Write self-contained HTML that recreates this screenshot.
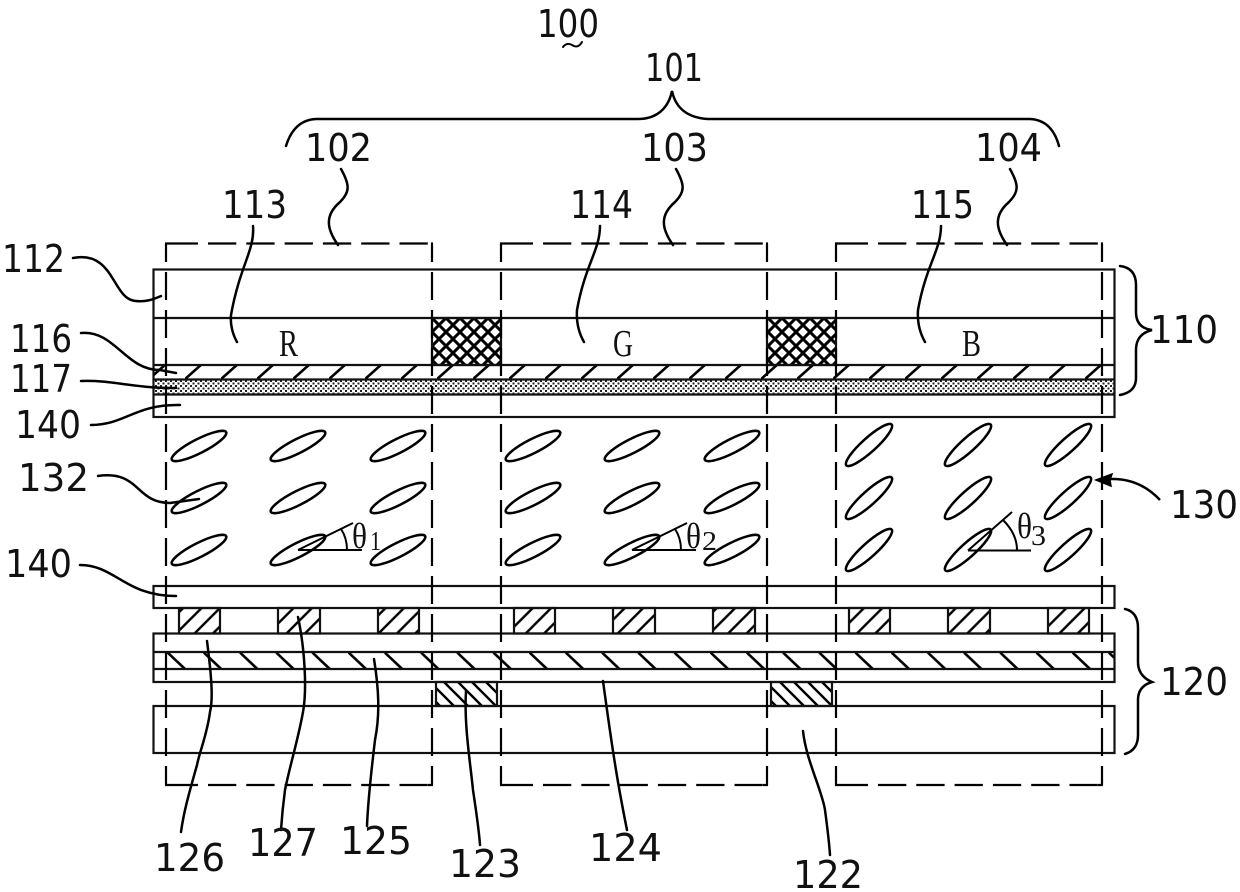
<!DOCTYPE html>
<html><head><meta charset="utf-8"><style>
html,body{margin:0;padding:0;background:#fff}
svg{display:block}
text.n{font-family:"DejaVu Sans","Liberation Sans",sans-serif;font-size:38px;fill:#111}
text.s{font-family:"Liberation Serif",serif;fill:#111}
</style></head><body>
<svg width="1240" height="892" viewBox="0 0 1240 892" xmlns="http://www.w3.org/2000/svg">
<defs>
<pattern id="h1" patternUnits="userSpaceOnUse" x="5" y="365" width="36" height="14"><line x1="-1" y1="15" x2="17" y2="-1" stroke="#000" stroke-width="2.6"/></pattern>
<pattern id="h2" patternUnits="userSpaceOnUse" x="167" y="652" width="36.2" height="17"><line x1="0" y1="0" x2="18" y2="17" stroke="#000" stroke-width="2.6"/></pattern>
<pattern id="dots" patternUnits="userSpaceOnUse" x="0" y="380" width="5" height="5"><rect width="5" height="5" fill="#fff"/><rect width="2" height="2" fill="#222"/><rect x="2.5" y="2.5" width="2" height="2" fill="#222"/></pattern>
<pattern id="cross" patternUnits="userSpaceOnUse" x="432" y="318" width="14" height="14"><rect width="14" height="14" fill="#fff"/><path d="M-1 -1L15 15M-1 15L15 -1" stroke="#000" stroke-width="3"/></pattern>
<pattern id="el" patternUnits="userSpaceOnUse" x="0" y="0" width="18.4" height="18.4"><path d="M-2 20.4L20.4 -2M-2 2L2 -2M16.4 20.4L20.4 16.4" stroke="#000" stroke-width="2.4"/></pattern>
<pattern id="gt" patternUnits="userSpaceOnUse" x="0" y="0" width="14" height="14"><path d="M-2 -2L16 16M-2 12L2 16M12 -2L16 2" stroke="#000" stroke-width="2.4"/></pattern>
<ellipse id="e1" cx="0" cy="0" rx="30.5" ry="7" transform="rotate(-27)" fill="none" stroke="#000" stroke-width="2.5"/>
<ellipse id="e3" cx="0" cy="0" rx="30.5" ry="7" transform="rotate(-42)" fill="none" stroke="#000" stroke-width="2.5"/>
<g id="box" fill="none" stroke="#000" stroke-width="2.2">
<path d="M166 243.5H432M166 785H432" stroke-dasharray="28.3 10" stroke-dashoffset="34.6"/>
<path d="M166 243.5V785M432 243.5V785" stroke-dasharray="28 10" stroke-dashoffset="9.5"/>
<path d="M165 243.5H170M431 243.5H433M165 785H170M428 785H433"/>
</g>
</defs>

<!-- fills -->
<rect x="153" y="365" width="962" height="14" fill="url(#h1)"/>
<rect x="153" y="380" width="962" height="14" fill="url(#dots)"/>
<rect x="432" y="318" width="69" height="47" fill="url(#cross)"/>
<rect x="767" y="318" width="69" height="47" fill="url(#cross)"/>
<rect x="166" y="652" width="949" height="17" fill="url(#h2)"/>

<g fill="none" stroke="#111" stroke-width="2.2">
<!-- upper substrate -->
<rect x="153.5" y="269.5" width="961" height="147.5"/>
<path d="M153 318H1115M153 365H1115M153 379.5H1115M153 394.5H1115"/>
<rect x="432" y="318" width="69" height="47"/>
<rect x="767" y="318" width="69" height="47"/>
<!-- lower substrate -->
<rect x="153.5" y="586" width="961" height="22"/>
<rect x="153.5" y="633.5" width="961" height="48.5"/>
<path d="M153 652H1115M153 669H1115"/>
<rect x="153.5" y="706" width="961" height="47"/>
</g>

<!-- electrodes -->
<g fill="url(#el)" stroke="#111" stroke-width="2.2">
<rect x="179" y="608" width="41" height="25.5"/><rect x="278" y="608" width="42" height="25.5"/><rect x="378" y="608" width="41" height="25.5"/>
<rect x="514" y="608" width="41" height="25.5"/><rect x="613" y="608" width="42" height="25.5"/><rect x="713" y="608" width="42" height="25.5"/>
<rect x="849" y="608" width="41" height="25.5"/><rect x="948" y="608" width="42" height="25.5"/><rect x="1048" y="608" width="41" height="25.5"/>
</g>
<g fill="url(#gt)" stroke="#111" stroke-width="2.2">
<rect x="436" y="682" width="61" height="24"/>
<rect x="771" y="682" width="61" height="24"/>
</g>

<!-- dashed pixel boxes -->
<use href="#box"/>
<use href="#box" x="335"/>
<use href="#box" x="670"/>

<!-- liquid crystal -->
<g>
<use href="#e1" x="199" y="446"/><use href="#e1" x="298" y="446"/><use href="#e1" x="398" y="446"/>
<use href="#e1" x="199" y="498"/><use href="#e1" x="298" y="498"/><use href="#e1" x="398" y="498"/>
<use href="#e1" x="199" y="550"/><use href="#e1" x="298" y="550"/><use href="#e1" x="398" y="550"/>
<use href="#e1" x="533" y="446"/><use href="#e1" x="632" y="446"/><use href="#e1" x="732" y="446"/>
<use href="#e1" x="533" y="498"/><use href="#e1" x="632" y="498"/><use href="#e1" x="732" y="498"/>
<use href="#e1" x="533" y="550"/><use href="#e1" x="632" y="550"/><use href="#e1" x="732" y="550"/>
<use href="#e3" x="869" y="445"/><use href="#e3" x="968" y="445"/><use href="#e3" x="1068" y="445"/>
<use href="#e3" x="869" y="498"/><use href="#e3" x="968" y="498"/><use href="#e3" x="1068" y="498"/>
<use href="#e3" x="869" y="550"/><use href="#e3" x="968" y="550"/><use href="#e3" x="1068" y="550"/>
</g>

<!-- angles -->
<g fill="none" stroke="#000" stroke-width="2">
<path d="M298 550H362M298 550L353 523M341 529Q347 538 347 550"/>
<path d="M632 550H696M632 550L687 523M675 529Q681 538 681 550"/>
<path d="M968 550.5H1031M968 550.5L1012 512M1003 520Q1017 534 1017 550"/>
</g>

<!-- brace and leaders -->
<g fill="none" stroke="#000" stroke-width="2.5" stroke-linecap="round">
<path d="M286 146Q294 120 316 119H638C655 119 668 110 672 91C676 110 690 118 708 119H1030Q1052 120 1059 146"/>
<path d="M1120 266Q1136 268 1136 285V312Q1136 328 1152 330Q1136 334 1136 350V378Q1136 392 1120 395"/>
<path d="M1125 609Q1138 612 1138 628V662Q1138 676 1152 682Q1138 686 1138 700V735Q1138 750 1125 754"/>
<path d="M563 47Q567 42 572 45Q578 49 582 42" stroke-width="2"/>
<path d="M341 169C350 185 350 192 340 202C325 215 326 228 338 245"/>
<path d="M676 169C685 185 685 192 675 202C660 215 661 228 673 245"/>
<path d="M1010 169C1019 185 1019 192 1009 202C994 215 995 228 1007 245"/>
<path d="M253 226C255 250 240 265 231 315C230 325 233 335 237 342"/>
<path d="M600 226C600 250 585 265 577 310C576 325 580 335 584 342"/>
<path d="M941 226C941 250 926 265 918 310C917 325 921 335 925 342"/>
<path d="M73 258C115 250 112 300 136 301C145 302 152 300 161 296"/>
<path d="M81 333C115 330 125 370 160 370L176 373"/>
<path d="M81 381C115 380 130 388 176 388"/>
<path d="M91 425C125 425 135 404 180 405"/>
<path d="M98 476C140 470 135 503 170 503L199 499"/>
<path d="M80 565C115 565 125 596 176 596"/>
<path d="M207 641C212 680 213 700 210 712C207 735 200 750 197 765C190 790 184 810 181 832"/>
<path d="M298 617C305 650 307 690 303 712C298 740 290 765 285 790C283 805 282 815 281 830"/>
<path d="M374 659C379 690 380 715 375 740C372 765 368 800 367 826"/>
<path d="M466 691C464 725 470 760 473 790C476 810 479 830 480 845"/>
<path d="M603 681C607 710 611 740 616 770C620 795 624 815 627 830"/>
<path d="M803 731C806 760 822 790 825 810C827 825 829 840 830 855"/>
</g>
<path d="M1096 480L1112 474L1110 480L1111 486Z" fill="#000" stroke="#000" stroke-width="1.5"/>
<path d="M1100 480C1125 476 1145 484 1160 500" fill="none" stroke="#000" stroke-width="2.5"/>

<!-- labels -->
<g>
<text class="n" x="537" y="37" textLength="62" lengthAdjust="spacingAndGlyphs">100</text>
<text class="n" x="645" y="81" textLength="58" lengthAdjust="spacingAndGlyphs">101</text>
<text class="n" x="305" y="161" textLength="67" lengthAdjust="spacingAndGlyphs">102</text>
<text class="n" x="641" y="161" textLength="67" lengthAdjust="spacingAndGlyphs">103</text>
<text class="n" x="975" y="161" textLength="67" lengthAdjust="spacingAndGlyphs">104</text>
<text class="n" x="222" y="218" textLength="65" lengthAdjust="spacingAndGlyphs">113</text>
<text class="n" x="570" y="218" textLength="63" lengthAdjust="spacingAndGlyphs">114</text>
<text class="n" x="911" y="218" textLength="63" lengthAdjust="spacingAndGlyphs">115</text>
<text class="n" x="2" y="272" textLength="63" lengthAdjust="spacingAndGlyphs">112</text>
<text class="n" x="10" y="352" textLength="62" lengthAdjust="spacingAndGlyphs">116</text>
<text class="n" x="10" y="392" textLength="62" lengthAdjust="spacingAndGlyphs">117</text>
<text class="n" x="15" y="438" textLength="66" lengthAdjust="spacingAndGlyphs">140</text>
<text class="n" x="18" y="491" textLength="71" lengthAdjust="spacingAndGlyphs">132</text>
<text class="n" x="5" y="577" textLength="67" lengthAdjust="spacingAndGlyphs">140</text>
<text class="n" x="1150" y="343" textLength="68" lengthAdjust="spacingAndGlyphs">110</text>
<text class="n" x="1170" y="518" textLength="68" lengthAdjust="spacingAndGlyphs">130</text>
<text class="n" x="1160" y="695" textLength="68" lengthAdjust="spacingAndGlyphs">120</text>
<text class="n" x="154" y="871" textLength="71" lengthAdjust="spacingAndGlyphs">126</text>
<text class="n" x="248" y="856" textLength="70" lengthAdjust="spacingAndGlyphs">127</text>
<text class="n" x="340" y="854" textLength="72" lengthAdjust="spacingAndGlyphs">125</text>
<text class="n" x="449" y="877" textLength="72" lengthAdjust="spacingAndGlyphs">123</text>
<text class="n" x="589" y="861" textLength="73" lengthAdjust="spacingAndGlyphs">124</text>
<text class="n" x="793" y="888" textLength="70" lengthAdjust="spacingAndGlyphs">122</text>
<text class="s" x="279" y="356" font-size="38" textLength="19" lengthAdjust="spacingAndGlyphs">R</text>
<text class="s" x="613" y="356" font-size="38" textLength="20" lengthAdjust="spacingAndGlyphs">G</text>
<text class="s" x="962" y="356" font-size="38" textLength="19" lengthAdjust="spacingAndGlyphs">B</text>
<text class="s" x="352" y="548" font-size="36" textLength="15" lengthAdjust="spacingAndGlyphs">θ</text>
<text class="s" x="370" y="550" font-size="27" textLength="11" lengthAdjust="spacingAndGlyphs">1</text>
<text class="s" x="686" y="548" font-size="36" textLength="15" lengthAdjust="spacingAndGlyphs">θ</text>
<text class="s" x="702" y="550" font-size="27" textLength="15" lengthAdjust="spacingAndGlyphs">2</text>
<text class="s" x="1017" y="538" font-size="36" textLength="15" lengthAdjust="spacingAndGlyphs">θ</text>
<text class="s" x="1031" y="545" font-size="29" textLength="15" lengthAdjust="spacingAndGlyphs">3</text>
</g>
</svg>
</body></html>
